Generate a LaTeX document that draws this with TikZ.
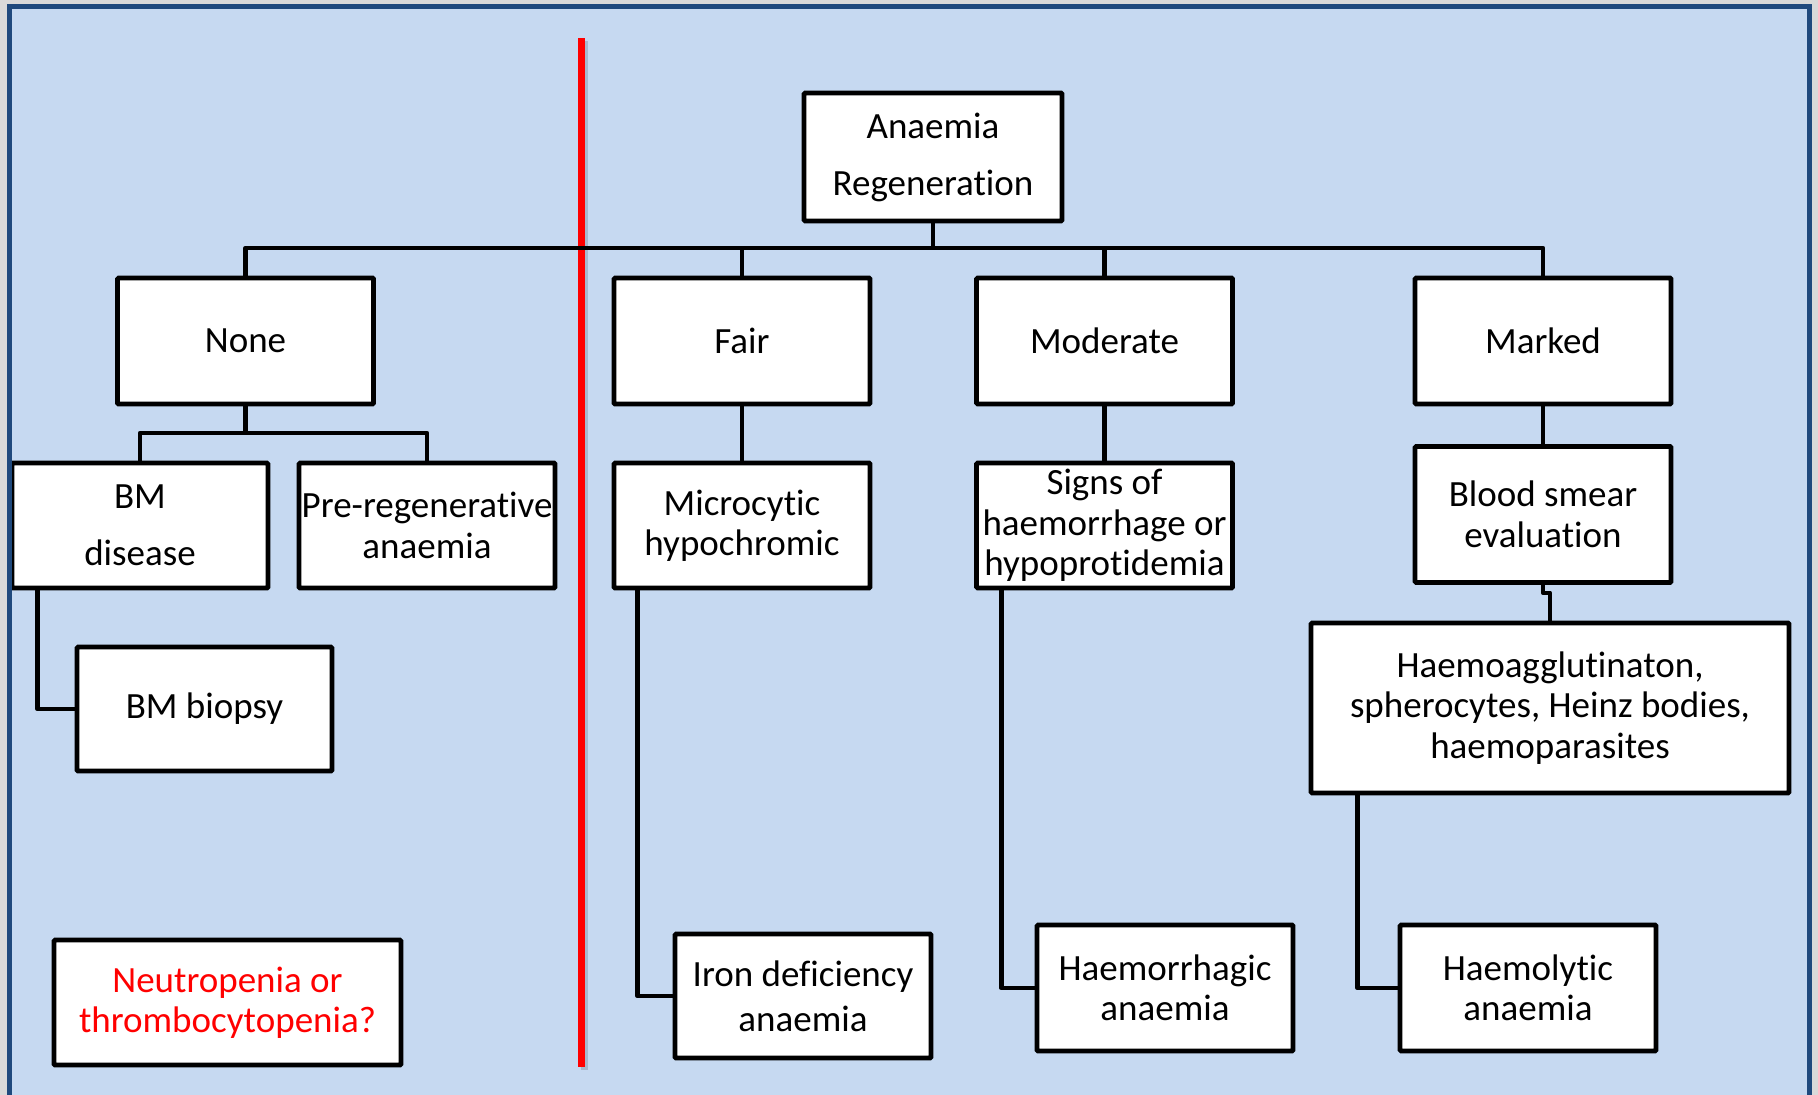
\documentclass[tikz,border=0pt]{standalone}
\usepackage{fontspec}
\setmainfont{Carlito}[Ligatures=NoCommon]
\definecolor{bgblue}{HTML}{C6D9F1}
\definecolor{frameblue}{HTML}{1F497D}
\definecolor{outgray}{HTML}{D9D9D9}
\begin{document}
\begin{tikzpicture}[x=1pt,y=-1pt,
  box/.style={draw, line width=4.6pt, fill=white, align=center, inner sep=0pt,
    rounded corners=1pt, font=\fontsize{37}{40.5}\selectfont},
  lvl/.style={box, minimum width=256pt, minimum height=126pt},
  conn/.style={line width=4.6pt, line join=round}]
\useasboundingbox (0,0) rectangle (1818,1095);
\clip (0,0) rectangle (1818,1095);
\fill[outgray] (0,0) rectangle (1818,1095);
\fill[bgblue] (9.5,6.5) rectangle (1809.5,1110);

% separator
\draw[black, opacity=0.15, line width=7pt] (584.5,41) -- (584.5,1070);
\draw[red, line width=7pt] (581.5,38) -- (581.5,1067);

% nodes
\node[box, minimum width=258pt, minimum height=128pt, font=\fontsize{37}{57}\selectfont] (top) at (933,157) {Anaemia\\Regeneration};
\node[lvl] (none) at (245.5,341) {None};
\node[lvl] (fair) at (742,341) {Fair};
\node[lvl] (moderate) at (1104.5,341) {Moderate};
\node[lvl] (marked) at (1543,341) {Marked};

\node[lvl, minimum width=256pt, minimum height=125pt, font=\fontsize{37}{57}\selectfont] (bmd) at (140,525.5) {BM\\disease};
\node[lvl, minimum height=125pt] (pre) at (427,525.5) {Pre-regenerative\\anaemia};
\node[lvl, minimum height=125pt] (micro) at (742,525.5) {Microcytic\\hypochromic};
\node[lvl, minimum height=125pt] (signs) at (1104.5,525.5) {Signs of\\haemorrhage or\\hypoprotidemia};
\node[lvl, minimum height=136pt] (smear) at (1543,514.5) {Blood smear\\evaluation};

\node[lvl, minimum width=255pt, minimum height=124pt] (biopsy) at (204.5,709) {BM biopsy};
\node[box, minimum width=478pt, minimum height=170pt] (haemo) at (1550,708) {Haemoagglutinaton,\\spherocytes, Heinz bodies,\\haemoparasites};

\node[box, minimum width=347pt, minimum height=125pt, text=red] (neut) at (227.5,1002.5) {Neutropenia or\\thrombocytopenia?};
\node[lvl, minimum height=124pt, font=\fontsize{37}{45}\selectfont] (iron) at (803,996) {Iron deficiency\\anaemia};
\node[lvl] (hrg) at (1165,988) {Haemorrhagic\\anaemia};
\node[lvl] (hly) at (1528,988) {Haemolytic\\anaemia};

% connectors
\coordinate (bus) at (933,248);
\coordinate (nj) at (245.5,433);
\draw[conn] (top.south) -- (bus);
\draw[conn] (none.north) |- (bus) -| (marked.north);
\draw[conn] (fair.north) -- (fair.north |- bus);
\draw[conn] (moderate.north) -- (moderate.north |- bus);

\draw[conn] (none.south) -- (nj);
\draw[conn] (bmd.north) |- (nj) -| (pre.north);
\draw[conn] ([xshift=28pt]bmd.south west) |- (biopsy.west);

\draw[conn] (fair.south) -- (micro.north);
\draw[conn] ([xshift=26pt]micro.south west) |- (iron.west);

\draw[conn] (moderate.south) -- (signs.north);
\draw[conn] ([xshift=27pt]signs.south west) |- (hrg.west);

\draw[conn] (marked.south) -- (smear.north);
\draw[conn] (smear.south) -- ++(0,8) -| (haemo.north);
\draw[conn] ([xshift=49pt]haemo.south west) |- (hly.west);

% frame border on top
\draw[frameblue, line width=5pt] (9.5,1110) -- (9.5,6.5) -- (1809.5,6.5) -- (1809.5,1110);
\end{tikzpicture}
\end{document}
